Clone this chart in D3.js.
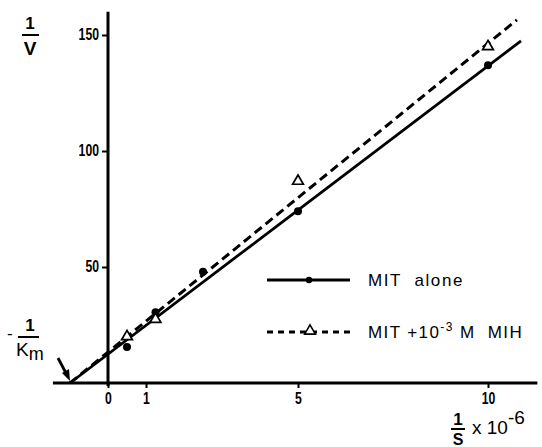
<!DOCTYPE html>
<html>
<head>
<meta charset="utf-8">
<script src="https://cdn.jsdelivr.net/npm/d3@7"></script>
<style>
body { margin: 0; background: #fff; }
svg text { font-family: "Liberation Sans", Arial, sans-serif; fill: #000; white-space: pre; }
</style>
</head>
<body>
<svg width="542" height="447"></svg>
<script>
var width = 542;
var height = 447;

// 1/S (x 10^-6) and 1/V readings
var invS = [0.5, 1.25, 2.5, 5, 10];
var mitAlone = [15.5, 30.5, 48, 74, 137];
var invSMih = [0.5, 1.25, 5, 10];
var mitMih = [20, 27.5, 87, 145];

// fitted lines, end points
var fitAlone = [[-1.0, 0], [10.87, 147.5]];
var fitMih = [[-1.0, 0], [10.76, 156.5]];

var xTicks = [0, 1, 5, 10];
var yTicks = [50, 100, 150];
var xExtent = [-1.45, 11.3];
var yExtent = [0, 160];

var svg = d3.select("svg");

var x = d3.scaleLinear().domain([0, 10]).range([108, 488]);
var y = d3.scaleLinear().domain([0, 150]).range([383, 35]);

// condensed bold tick labels
function squeeze(sel) {
  sel.style("font-weight", "bold").style("font-size", "17px")
    .attr("lengthAdjust", "spacingAndGlyphs")
    .attr("textLength", function() { return this.textContent.length * 6.8; });
}

// axis lines
svg.append("line")
  .attr("x1", x(xExtent[0])).attr("x2", x(xExtent[1]))
  .attr("y1", y(0)).attr("y2", y(0))
  .attr("stroke", "#000").attr("stroke-width", 3);
svg.append("line")
  .attr("x1", x(0)).attr("x2", x(0))
  .attr("y1", y(yExtent[0]) + 3).attr("y2", y(yExtent[1]))
  .attr("stroke", "#000").attr("stroke-width", 3);

// ticks
var gx = svg.append("g")
  .attr("transform", "translate(0," + y(0) + ")")
  .call(d3.axisBottom(x).tickValues(xTicks).tickSize(5).tickPadding(4).tickFormat(d3.format("d")));
gx.select(".domain").remove();
gx.selectAll(".tick line").attr("stroke-width", 2);
gx.selectAll(".tick text").call(squeeze);

var gy = svg.append("g")
  .attr("transform", "translate(" + x(0) + ",0)")
  .call(d3.axisLeft(y).tickValues(yTicks).tickSize(6).tickPadding(3).tickFormat(d3.format("d")));
gy.select(".domain").remove();
gy.selectAll(".tick line").attr("stroke-width", 2);
gy.selectAll(".tick text").attr("dy", "0.25em").call(squeeze);

// fitted lines
var line = d3.line().x(function(d) { return x(d[0]); }).y(function(d) { return y(d[1]); });

svg.append("path")
  .attr("d", line(fitAlone))
  .attr("fill", "none").attr("stroke", "#000").attr("stroke-width", 2.8);

svg.append("path")
  .attr("d", line(fitMih))
  .attr("fill", "none").attr("stroke", "#000").attr("stroke-width", 3)
  .attr("stroke-dasharray", "9,5");

// points
svg.selectAll("circle.alone")
  .data(invS.map(function(d, i) { return [d, mitAlone[i]]; }))
  .enter().append("circle")
  .attr("class", "alone")
  .attr("cx", function(d) { return x(d[0]); })
  .attr("cy", function(d) { return y(d[1]); })
  .attr("r", 4)
  .attr("fill", "#000");

var tri = d3.symbol().type(d3.symbolTriangle).size(50);
svg.selectAll("path.mih")
  .data(invSMih.map(function(d, i) { return [d, mitMih[i]]; }))
  .enter().append("path")
  .attr("class", "mih")
  .attr("d", tri)
  .attr("transform", function(d) { return "translate(" + x(d[0]) + "," + y(d[1]) + ")"; })
  .attr("fill", "#fff").attr("stroke", "#000").attr("stroke-width", 1.7);

// legend
var lg = svg.append("g");
lg.append("line").attr("x1", 267).attr("x2", 350).attr("y1", 280).attr("y2", 280)
  .attr("stroke", "#000").attr("stroke-width", 2.8);
lg.append("circle").attr("cx", 309).attr("cy", 280).attr("r", 3.2).attr("fill", "#000");
lg.append("text").attr("x", 368).attr("y", 286)
  .style("font-size", "17px").style("letter-spacing", "1.6px")
  .text("MIT  alone");

lg.append("line").attr("x1", 267).attr("x2", 350).attr("y1", 332).attr("y2", 332)
  .attr("stroke", "#000").attr("stroke-width", 2.8).attr("stroke-dasharray", "6,5");
lg.append("path").attr("d", tri)
  .attr("transform", "translate(310,331)")
  .attr("fill", "#fff").attr("stroke", "#000").attr("stroke-width", 1.6);
var t2 = lg.append("text").attr("x", 368).attr("y", 338)
  .style("font-size", "17px").style("letter-spacing", "1.4px");
t2.append("tspan").text("MIT +10");
t2.append("tspan").attr("dy", -7).style("font-size", "12px").text("-3");
t2.append("tspan").attr("dy", 7).text(" M  MIH");

// y label 1/V
svg.append("text").attr("x", 30).attr("y", 29).attr("text-anchor", "middle")
  .style("font-size", "17px").style("font-weight", "bold").text("1");
svg.append("line").attr("x1", 22).attr("x2", 39).attr("y1", 35).attr("y2", 35)
  .attr("stroke", "#000").attr("stroke-width", 2);
svg.append("text").attr("x", 30).attr("y", 55).attr("text-anchor", "middle")
  .style("font-size", "19px").style("font-weight", "bold").text("V");

// x label 1/S x 10^-6
svg.append("text").attr("x", 458).attr("y", 425).attr("text-anchor", "middle")
  .style("font-size", "17px").style("font-weight", "bold").text("1");
svg.append("line").attr("x1", 451).attr("x2", 465).attr("y1", 429).attr("y2", 429)
  .attr("stroke", "#000").attr("stroke-width", 2);
svg.append("text").attr("x", 458).attr("y", 445).attr("text-anchor", "middle")
  .style("font-size", "16px").style("font-weight", "bold").text("S");
var xl = svg.append("text").attr("x", 472).attr("y", 434).style("font-size", "19px");
xl.append("tspan").text("x 10");
xl.append("tspan").attr("dy", -10).text("-6");

// -1/Km label and arrow
svg.append("text").attr("x", 7).attr("y", 339).style("font-size", "17px").text("-");
svg.append("text").attr("x", 30).attr("y", 331).attr("text-anchor", "middle")
  .style("font-size", "17px").style("font-weight", "bold").text("1");
svg.append("line").attr("x1", 18).attr("x2", 39).attr("y1", 337).attr("y2", 337)
  .attr("stroke", "#000").attr("stroke-width", 2);
var km = svg.append("text").attr("x", 16).attr("y", 356).style("font-size", "19px");
km.append("tspan").text("K");
km.append("tspan").attr("dy", 4).style("font-size", "18px").text("m");

var ax = x(fitAlone[0][0]), ay = y(fitAlone[0][1]);
svg.append("line")
  .attr("x1", ax - 12).attr("y1", ay - 25)
  .attr("x2", ax - 3).attr("y2", ay - 8)
  .attr("stroke", "#000").attr("stroke-width", 2.8);
svg.append("path")
  .attr("d", d3.line()([[ax - 8, ay - 10], [ax, ay - 2], [ax - 1, ay - 14]]))
  .attr("fill", "#000");
</script>
</body>
</html>
